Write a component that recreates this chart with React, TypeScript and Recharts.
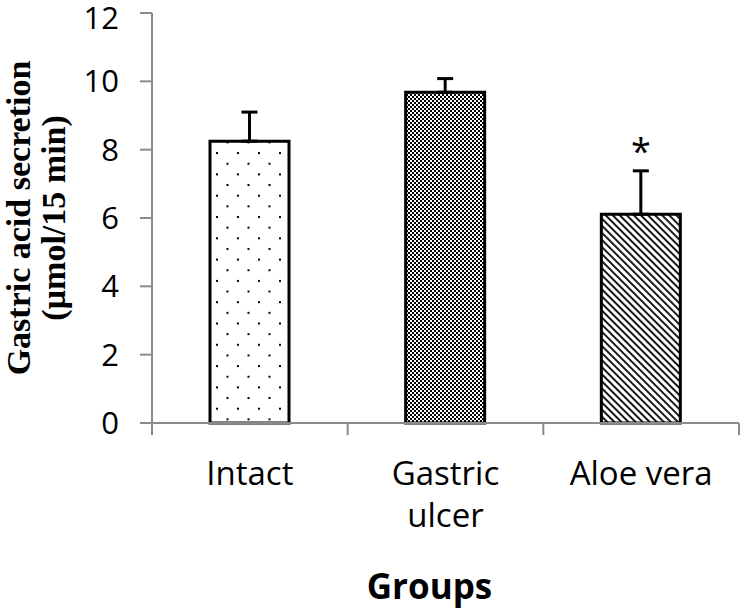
import { Bar, BarChart, ErrorBar, Label, LabelList, XAxis, YAxis } from "recharts";

const categories = ["Intact", "Gastric ulcer", "Aloe vera"];
const means = [8.25, 9.68, 6.11];
const sems = [0.85, 0.4, 1.27];
const marks = ["", "", "*"];
const yTicks = [0, 2, 4, 6, 8, 10, 12];
const fills = ["url(#dots)", "url(#checker)", "url(#diag)"];

const data = categories.map((name, i) => ({
  name,
  mean: means[i],
  err: [0, sems[i]],
  mark: marks[i],
  fill: fills[i],
}));

const AXIS = "#8a8a8a";
const TICK_FONT = "'Open Sans', sans-serif";
const SERIF = "'Liberation Serif', 'Times New Roman', serif";

function Patterns() {
  return (
    <svg width={0} height={0} style={{ position: "absolute" }}>
      <defs>
        <pattern id="dots" patternUnits="userSpaceOnUse" x={6} y={3} width={21} height={21.3}>
          <rect width={21} height={21.3} fill="#fff" />
          <rect x={0} y={0} width={2} height={2} fill="#000" />
          <rect x={10.5} y={10.65} width={2} height={2} fill="#000" />
        </pattern>
        <pattern id="checker" patternUnits="userSpaceOnUse" width={4} height={4}>
          <rect width={4} height={4} fill="#fff" />
          <rect x={0} y={0} width={2} height={2} fill="#000" />
          <rect x={2} y={2} width={2} height={2} fill="#000" />
        </pattern>
        <pattern id="diag" patternUnits="userSpaceOnUse" width={5} height={5} patternTransform="rotate(-45)">
          <rect width={5} height={5} fill="#fff" />
          <line x1={1} y1={0} x2={1} y2={5} stroke="#000" strokeWidth={1.8} />
        </pattern>
      </defs>
    </svg>
  );
}

// category ticks sit on the band edges, Excel style; labels wrap "Gastric ulcer"
function CategoryTick(props: any) {
  const { x, y, payload, index } = props;
  const half = payload.offset ?? 0;
  const lines = payload.value === "Gastric ulcer" ? ["Gastric", "ulcer"] : [payload.value];
  return (
    <g>
      <line x1={x - half} y1={y} x2={x - half} y2={y + 12} stroke={AXIS} strokeWidth={2} />
      {index === categories.length - 1 && (
        <line x1={x + half} y1={y} x2={x + half} y2={y + 12} stroke={AXIS} strokeWidth={2} />
      )}
      {lines.map((t, i) => (
        <text key={t} x={x} y={y + 62 + i * 42} textAnchor="middle" fontFamily={TICK_FONT} fontSize={33} fill="#000">
          {t}
        </text>
      ))}
    </g>
  );
}

function YTitle(props: any) {
  const cy = props.viewBox.y + props.viewBox.height / 2;
  const style = { fontFamily: SERIF, fontWeight: 700, fontSize: 34, fill: "#000" };
  return (
    <g>
      <text transform={`translate(30, ${cy}) rotate(-90)`} textAnchor="middle" {...style}>
        Gastric acid secretion
      </text>
      <text transform={`translate(65, ${cy}) rotate(-90)`} textAnchor="middle" {...style}>
        (µmol/15 min)
      </text>
    </g>
  );
}

function XTitle(props: any) {
  const cx = props.viewBox.x + props.viewBox.width / 2;
  return (
    <text x={cx - 16} y={599} textAnchor="middle" fontFamily={TICK_FONT} fontWeight={700} fontSize={35} fill="#000">
      Groups
    </text>
  );
}

function Star(props: any) {
  const { x, y, width, height, value, index } = props;
  if (!value) return null;
  const pxPerUnit = height / means[index];
  const top = y - sems[index] * pxPerUnit;
  return (
    <text x={x + width / 2} y={top - 7} textAnchor="middle" fontFamily={TICK_FONT} fontSize={36} fill="#000">
      {value}
    </text>
  );
}

export default function App() {
  return (
    <div style={{ position: "absolute", left: 0, top: 0, width: 740, height: 614, background: "#fff" }}>
      <Patterns />
      <BarChart width={740} height={614} data={data} margin={{ top: 13, right: 1, bottom: 0, left: 0 }}>
        <YAxis
          domain={[0, 12]}
          ticks={yTicks}
          width={152}
          axisLine={{ stroke: AXIS, strokeWidth: 2 }}
          tickLine={{ stroke: AXIS, strokeWidth: 2 }}
          tickSize={12}
          tickMargin={21}
          tick={{ fill: "#000", fontSize: 31, fontFamily: TICK_FONT }}
        >
          <Label content={<YTitle />} />
        </YAxis>
        <XAxis
          dataKey="name"
          height={191}
          axisLine={{ stroke: AXIS, strokeWidth: 2 }}
          tickLine={false}
          tickSize={0}
          tickMargin={0}
          interval={0}
          tick={<CategoryTick />}
        >
          <Label content={<XTitle />} />
        </XAxis>
        <Bar dataKey="mean" barSize={79} stroke="#000" strokeWidth={3} isAnimationActive={false}>
          {data.map((d) => (
            <rect key={d.name} fill={d.fill} />
          ))}
          <ErrorBar dataKey="err" width={8} stroke="#000" strokeWidth={3} direction="y" />
          <LabelList dataKey="mark" content={<Star />} />
        </Bar>
      </BarChart>
    </div>
  );
}
